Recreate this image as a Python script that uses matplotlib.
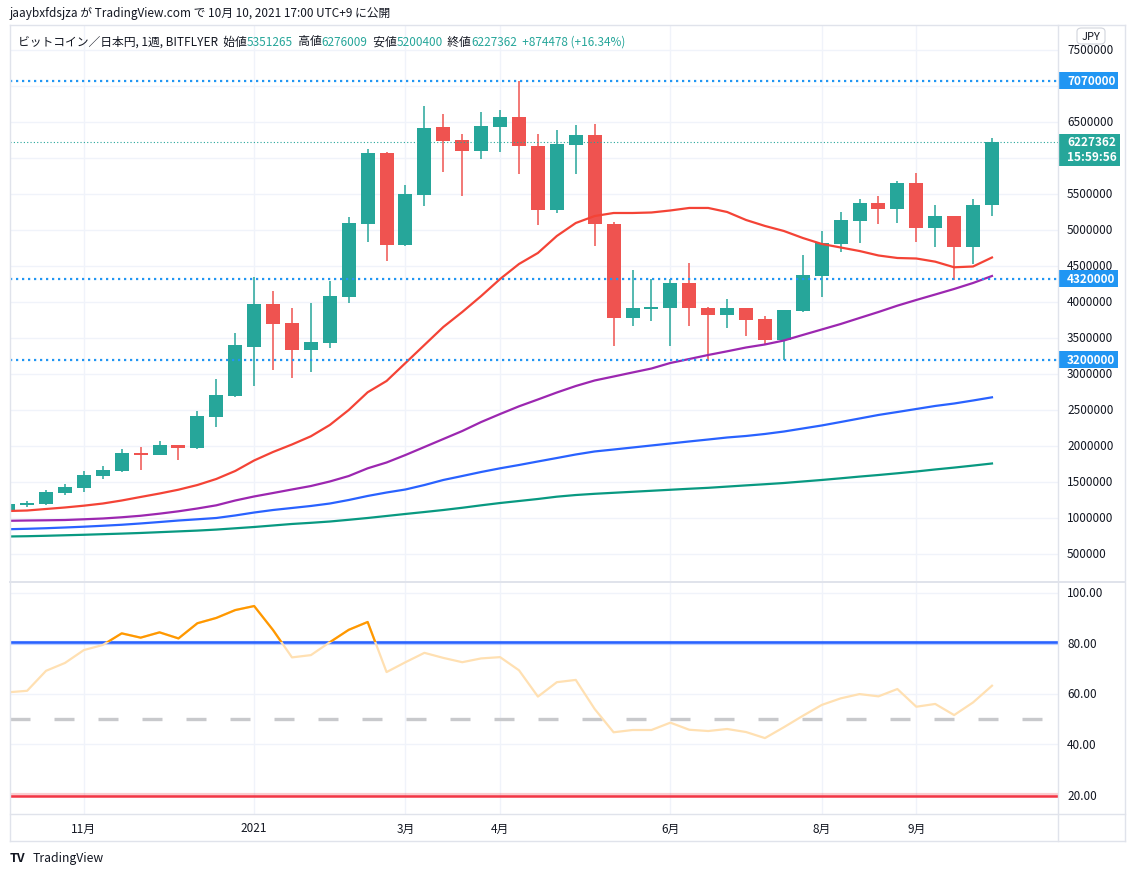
import matplotlib
matplotlib.use("Agg")
import matplotlib.pyplot as plt
from matplotlib.patches import Rectangle, FancyBboxPatch
from matplotlib.lines import Line2D
from matplotlib.transforms import blended_transform_factory

plt.rcParams['font.family'] = ['Noto Sans CJK JP', 'DejaVu Sans']

# weekly BTC/JPY candles (million yen), week of 2020-10-05 .. 2021-10-04
opens = [1.111, 1.181, 1.199, 1.351, 1.421, 1.588, 1.657, 1.907, 1.879, 2.010,
         1.976, 2.407, 2.699, 3.379, 3.972, 3.708, 3.338, 3.435, 4.074, 5.088,
         6.069, 4.796, 5.490, 6.431, 6.250, 6.101, 6.435, 6.569, 6.167, 5.282,
         6.185, 6.319, 5.083, 3.773, 3.907, 3.912, 4.264, 3.921, 3.824, 3.921,
         3.768, 3.472, 3.879, 4.365, 4.810, 5.129, 5.375, 5.296, 5.653, 5.032,
         5.194, 4.768, 5.351265]
highs = [1.200, 1.236, 1.389, 1.472, 1.653, 1.722, 1.958, 1.990, 2.069, 2.010,
         2.486, 2.931, 3.569, 4.343, 4.149, 3.912, 3.986, 4.292, 5.181, 6.125,
         6.079, 5.625, 6.722, 6.611, 6.333, 6.639, 6.667, 7.070, 6.333, 6.389,
         6.458, 6.472, 5.106, 4.449, 4.319, 4.319, 4.542, 3.931, 4.042, 3.921,
         3.806, 3.893, 4.653, 4.986, 5.250, 5.431, 5.472, 5.681, 5.792, 5.347,
         5.194, 5.431, 6.276009]
lows = [1.100, 1.157, 1.181, 1.324, 1.365, 1.546, 1.643, 1.671, 1.879, 1.806,
        1.958, 2.268, 2.676, 2.838, 3.060, 2.949, 3.032, 3.357, 3.990, 4.833,
        4.574, 4.778, 5.338, 5.806, 5.476, 5.990, 6.088, 5.782, 5.074, 5.240,
        5.782, 4.782, 3.384, 3.671, 3.740, 3.384, 3.662, 3.176, 3.635, 3.524,
        3.417, 3.199, 3.865, 4.069, 4.699, 4.824, 5.088, 5.101, 4.838, 4.768,
        4.310, 4.532, 5.200400]
closes = [1.194, 1.204, 1.357, 1.431, 1.593, 1.667, 1.903, 1.879, 2.014, 1.976,
          2.417, 2.708, 3.403, 3.972, 3.699, 3.338, 3.440, 4.083, 5.097, 6.069,
          4.796, 5.500, 6.417, 6.240, 6.101, 6.444, 6.569, 6.171, 5.282, 6.194,
          6.319, 5.079, 3.773, 3.917, 3.921, 4.264, 3.912, 3.824, 3.921, 3.754,
          3.472, 3.893, 4.375, 4.819, 5.139, 5.375, 5.296, 5.653, 5.032, 5.194,
          4.768, 5.347, 6.227362]

# moving averages (million yen)
ma_red = [1.097, 1.104, 1.125, 1.146, 1.171, 1.201, 1.243, 1.292, 1.340, 1.393,
          1.458, 1.542, 1.653, 1.799, 1.917, 2.021, 2.135, 2.292, 2.500, 2.746,
          2.903, 3.153, 3.403, 3.653, 3.861, 4.083, 4.319, 4.528, 4.681, 4.917,
          5.097, 5.194, 5.236, 5.236, 5.243, 5.271, 5.306, 5.306, 5.250, 5.139,
          5.056, 4.986, 4.889, 4.806, 4.757, 4.708, 4.646, 4.611, 4.604, 4.560,
          4.482, 4.493, 4.618]
ma_purple = [0.961, 0.965, 0.968, 0.972, 0.982, 0.993, 1.010, 1.031, 1.060, 1.093,
             1.132, 1.176, 1.243, 1.299, 1.347, 1.396, 1.444, 1.507, 1.583, 1.690,
             1.771, 1.875, 1.986, 2.097, 2.208, 2.333, 2.444, 2.551, 2.646, 2.743,
             2.833, 2.910, 2.965, 3.021, 3.076, 3.153, 3.208, 3.264, 3.315, 3.368,
             3.410, 3.465, 3.542, 3.618, 3.694, 3.778, 3.861, 3.949, 4.028, 4.104,
             4.181, 4.264, 4.361]
ma_blue = [0.844, 0.850, 0.858, 0.868, 0.879, 0.892, 0.906, 0.924, 0.944, 0.965,
           0.982, 1.000, 1.035, 1.076, 1.111, 1.139, 1.167, 1.201, 1.250, 1.306,
           1.354, 1.396, 1.458, 1.528, 1.583, 1.639, 1.690, 1.736, 1.785, 1.833,
           1.882, 1.924, 1.951, 1.979, 2.007, 2.035, 2.063, 2.090, 2.118, 2.139,
           2.167, 2.201, 2.243, 2.285, 2.333, 2.382, 2.431, 2.472, 2.514, 2.556,
           2.590, 2.632, 2.676]
ma_green = [0.743, 0.747, 0.753, 0.760, 0.767, 0.775, 0.783, 0.792, 0.803, 0.814,
            0.825, 0.839, 0.857, 0.875, 0.896, 0.917, 0.933, 0.951, 0.975, 1.000,
            1.028, 1.056, 1.083, 1.111, 1.142, 1.176, 1.208, 1.236, 1.264, 1.296,
            1.319, 1.336, 1.350, 1.364, 1.378, 1.392, 1.406, 1.419, 1.436, 1.453,
            1.469, 1.486, 1.507, 1.528, 1.551, 1.575, 1.597, 1.621, 1.646, 1.674,
            1.700, 1.728, 1.757]

rsi = [60.6, 61.2, 69.1, 72.2, 77.3, 79.3, 83.9, 82.2, 84.3, 81.9,
       87.9, 90.0, 93.1, 94.7, 85.2, 74.4, 75.3, 80.4, 85.3, 88.4,
       68.6, 72.5, 76.2, 74.2, 72.5, 74.0, 74.5, 69.3, 58.9, 64.6,
       65.5, 54.0, 44.8, 45.7, 45.7, 48.6, 45.8, 45.3, 46.1, 44.9,
       42.5, 46.8, 51.3, 55.6, 58.2, 59.9, 59.0, 61.9, 54.9, 56.0,
       51.6, 56.6, 63.2]

level_lines = [7.07, 4.32, 3.20]
price_ticks = [0.5, 1.0, 1.5, 2.0, 2.5, 3.0, 3.5, 4.0, 4.5, 5.0, 5.5, 6.5, 7.5]
rsi_ticks = [100, 80, 60, 40, 20]
month_idx = [4, 13, 21, 26, 35, 43, 48]
month_labels = ['11月', '2021', '3月', '4月', '6月', '8月', '9月']

UP = '#26A69A'
DOWN = '#EF5350'
GRID = '#F0F3FA'
BORDER = '#E0E3EB'
TXT = '#131722'

W, H = 1135, 878
fig = plt.figure(figsize=(W / 100, H / 100), dpi=100)
fig.patch.set_facecolor('white')


def fx(x):
    return x / W


def fy(y):
    return 1 - y / H


ax = fig.add_axes([fx(10), fy(583), fx(1058) - fx(10), fy(26) - fy(583)])
ax2 = fig.add_axes([fx(10), fy(815), fx(1058) - fx(10), fy(583) - fy(815)])
for a in (ax, ax2):
    for s in a.spines.values():
        s.set_visible(False)
    a.set_xticks([])
    a.set_yticks([])
    a.set_xlim(0.095, 55.49)

ax.set_ylim(0.111, 7.847)
ax2.set_ylim(12.5, 104.2)

n = len(closes)
xs = list(range(n))

# grid
for v in [0.5 * k for k in range(1, 16)]:
    ax.axhline(v, color=GRID, lw=1, zorder=0)
for v in [100, 60, 40]:
    ax2.axhline(v, color=GRID, lw=1, zorder=0)
for i in month_idx:
    ax.axvline(i, color=GRID, lw=1, zorder=0)
    ax2.axvline(i, color=GRID, lw=1, zorder=0)

# candles
for i in xs:
    o, h, l, c = opens[i], highs[i], lows[i], closes[i]
    col = UP if c >= o else DOWN
    ax.vlines(i, l, h, color=col, lw=1.1, zorder=2)
    ax.bar(i, max(abs(c - o), 0.025), bottom=min(o, c), width=0.74,
           color=col, lw=0, zorder=3)

# moving averages
ax.plot(xs, ma_green, color='#089981', lw=1.6, zorder=4)
ax.plot(xs, ma_blue, color='#2962FF', lw=1.6, zorder=4)
ax.plot(xs, ma_purple, color='#9C27B0', lw=1.6, zorder=4)
ax.plot(xs, ma_red, color='#F44336', lw=1.6, zorder=4)

# horizontal levels
for v in level_lines:
    ax.axhline(v, color='#2196F3', lw=1.6, ls=(0, (1, 1.7)), zorder=5)
ax.axhline(closes[-1], color=UP, lw=0.8, ls=(0, (1, 2)), zorder=5)

# price scale labels
tb = blended_transform_factory(ax.transAxes, ax.transData)
for v in price_ticks:
    ax.text(1.0086, v, f'{int(round(v * 1e6))}', transform=tb, ha='left',
            va='center', fontsize=8.5, color=TXT, clip_on=False)

ppu = ax.transData.transform((0, 1))[1] - ax.transData.transform((0, 0))[1]
xr = (1118 - 10) / 1048.0
for v in level_lines:
    ax.add_patch(Rectangle((1.0, v - 8.5 / ppu), xr - 1.0, 17 / ppu,
                           transform=tb, fc='#2196F3', ec='none',
                           clip_on=False, zorder=6))
    ax.text(1.0086, v, f'{int(round(v * 1e6))}', transform=tb, ha='left',
            va='center', fontsize=8.5, color='white', fontweight='bold',
            clip_on=False, zorder=7)
cp = closes[-1]
ax.add_patch(Rectangle((1.0, cp - 24 / ppu), (1120 - 10) / 1048.0 - 1.0,
                       32 / ppu, transform=tb, fc=UP, ec='none',
                       clip_on=False, zorder=6))
ax.text(1.0086, cp, f'{int(round(cp * 1e6))}', transform=tb, ha='left',
        va='center', fontsize=8.5, color='white', fontweight='bold',
        clip_on=False, zorder=7)
ax.text(1.0086, cp - 15 / ppu, '15:59:56', transform=tb, ha='left',
        va='center', fontsize=8.5, color='white', fontweight='bold',
        clip_on=False, zorder=7)

# RSI pane
ax2.axhline(80, color='#2962FF', lw=3, alpha=0.3, zorder=1)
ax2.axhline(80.3, color='#2962FF', lw=1.8, zorder=2)
ax2.axhline(20, color='#F23645', lw=3, alpha=0.25, zorder=1)
ax2.axhline(19.7, color='#F23645', lw=1.8, zorder=2)
ax2.axhline(50, color='#C8C9CC', lw=2.4, ls=(0, (6, 7.2)), zorder=1)
ax2.plot(xs, rsi, color='#FFE0B2', lw=1.6, zorder=3)
hot, = ax2.plot(xs, rsi, color='#FF9800', lw=1.6, zorder=4)
hot.set_clip_path(Rectangle((-5, 80.3), 70, 40, transform=ax2.transData))

tb2 = blended_transform_factory(ax2.transAxes, ax2.transData)
for v in rsi_ticks:
    ax2.text(1.0086, v, f'{v:.2f}', transform=tb2, ha='left', va='center',
             fontsize=8.5, color=TXT, clip_on=False)

# time axis
tx = blended_transform_factory(ax2.transData, ax2.transAxes)
for i, lab in zip(month_idx, month_labels):
    ax2.text(i, -0.0603, lab, transform=tx, ha='center', va='center',
             fontsize=8.5, color=TXT, clip_on=False)

# frame lines
def hline(y, x0, x1, lw=1.0):
    fig.add_artist(Line2D([fx(x0), fx(x1)], [fy(y), fy(y)], color=BORDER,
                          lw=lw, transform=fig.transFigure))


def vline(x, y0, y1, lw=1.0):
    fig.add_artist(Line2D([fx(x), fx(x)], [fy(y0), fy(y1)], color=BORDER,
                          lw=lw, transform=fig.transFigure))


hline(26, 10, 1125)
hline(583, 10, 1125, lw=1.4)
hline(815, 10, 1125)
hline(842, 10, 1125)
vline(10, 26, 842)
vline(1058, 26, 842)
vline(1125, 26, 842)

# JPY badge
fig.add_artist(FancyBboxPatch((fx(1077), fy(45)), fx(28), fy(29) - fy(45),
                              boxstyle='round,pad=0,rounding_size=0.004',
                              fc='white', ec='#D1D4DC', lw=0.8,
                              transform=fig.transFigure, zorder=10))
fig.text(fx(1091), fy(37), 'JPY', ha='center', va='center', fontsize=8,
         color=TXT, zorder=11)

# header texts
fig.text(fx(10), fy(14), 'jaaybxfdsjza が TradingView.com で 10月 10, 2021 17:00 UTC+9 に公開',
         ha='left', va='center', fontsize=8.5, color=TXT)

segs = [('ビットコイン／日本円, 1週, BITFLYER  始値', TXT), ('5351265', UP),
        ('  高値', TXT), ('6276009', UP), ('  安値', TXT), ('5200400', UP),
        ('  終値', TXT), ('6227362', UP), ('  +874478 (+16.34%)', UP)]
r = fig.canvas.get_renderer()
xpos = 18
for s, col in segs:
    t = fig.text(fx(xpos), fy(42), s, ha='left', va='center', fontsize=8.5,
                 color=col)
    xpos += t.get_window_extent(renderer=r).width

fig.text(fx(10), fy(859), 'TV', ha='left', va='center', fontsize=9,
         fontweight='bold', color=TXT)
fig.text(fx(33), fy(859), 'TradingView', ha='left', va='center',
         fontsize=8.8, color=TXT)

fig.savefig('out.png', dpi=100, facecolor='white')
